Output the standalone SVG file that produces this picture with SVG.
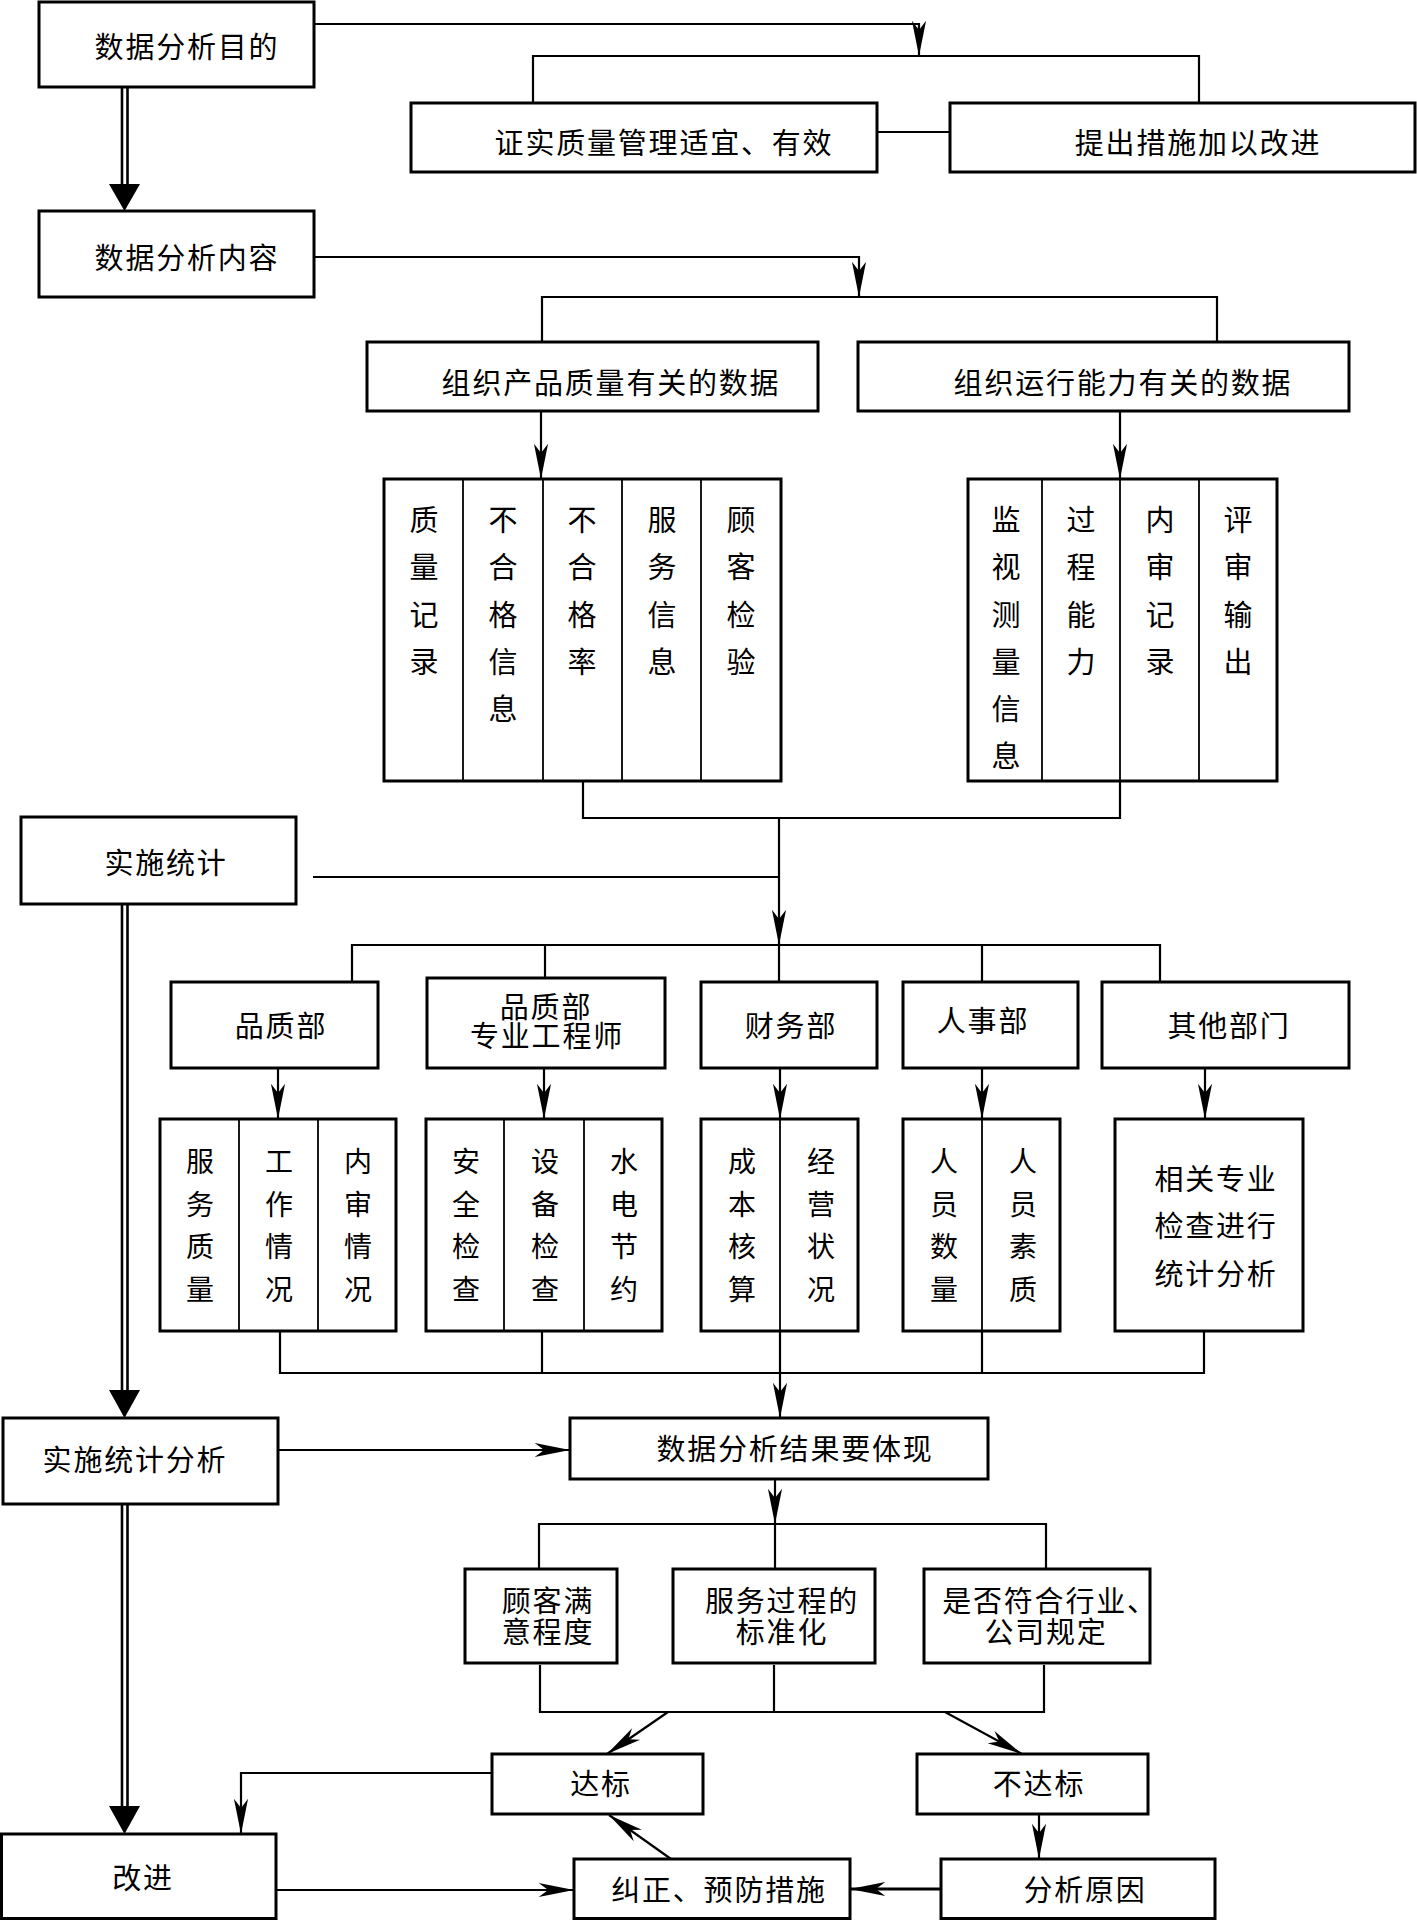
<svg xmlns="http://www.w3.org/2000/svg" width="1417" height="1920" viewBox="0 0 1417 1920">
<style>
.b{fill:#fff;stroke:#000;stroke-width:3}
.d{fill:none;stroke:#000;stroke-width:1.8}
.c{fill:none;stroke:#000;stroke-width:2.2}
.ca{fill:none;stroke:#000;stroke-width:2.2;marker-end:url(#ah)}
.dbl{fill:none;stroke:#000;stroke-width:2.6}
.t{font-family:"Noto Sans CJK SC","Noto Sans",sans-serif;font-size:29px;letter-spacing:1.8px;fill:#000;text-anchor:middle}
.k{font-family:"Noto Sans CJK SC","Noto Sans",sans-serif;font-size:29px;fill:#000;text-anchor:middle}
.v{font-family:"Noto Sans CJK SC","Noto Sans",sans-serif;font-size:28px;fill:#000;text-anchor:middle}
</style>
<defs>
<marker id="ah" markerUnits="userSpaceOnUse" markerWidth="40" markerHeight="20" viewBox="-32 -8 34 16" refX="0" refY="0" orient="auto">
<path d="M0,0 L-30,-6 L-22,0 L-30,6 Z" fill="#000"/>
</marker>
</defs>
<rect width="1417" height="1920" fill="#fff"/>

<g id="connectors">
<polyline class="ca" points="314,24 919,24 919,56"/>
<polyline class="c" points="533,103 533,56 1199,56 1199,103"/>
<line class="c" x1="877" y1="132" x2="950" y2="132"/>
<line class="dbl" x1="122" y1="87" x2="122" y2="186"/>
<line class="dbl" x1="127.5" y1="87" x2="127.5" y2="186"/>
<polygon points="109,184 140,184 124.5,211" fill="#000"/>
<polyline class="ca" points="314,257 859,257 859,297"/>
<polyline class="c" points="542,342 542,297 1217,297 1217,342"/>
<line class="ca" x1="541" y1="411" x2="541" y2="479"/>
<line class="ca" x1="1120" y1="411" x2="1120" y2="479"/>
<polyline class="c" points="583,781 583,818 1120,818 1120,781"/>
<line class="ca" x1="779" y1="818" x2="779" y2="945"/>
<line class="c" x1="313" y1="877" x2="779" y2="877"/>
<line class="dbl" x1="122" y1="904" x2="122" y2="1392"/>
<line class="dbl" x1="127.5" y1="904" x2="127.5" y2="1392"/>
<polygon points="109,1390 140,1390 124.5,1418" fill="#000"/>
<polyline class="c" points="352,982 352,945 1160,945 1160,982"/>
<line class="c" x1="545" y1="945" x2="545" y2="978"/>
<line class="c" x1="779" y1="945" x2="779" y2="982"/>
<line class="c" x1="982" y1="945" x2="982" y2="982"/>
<line class="ca" x1="278" y1="1068" x2="278" y2="1119"/>
<line class="ca" x1="544" y1="1068" x2="544" y2="1119"/>
<line class="ca" x1="780" y1="1068" x2="780" y2="1119"/>
<line class="ca" x1="982" y1="1068" x2="982" y2="1119"/>
<line class="ca" x1="1205" y1="1068" x2="1205" y2="1119"/>
<polyline class="c" points="280,1331 280,1373 1204,1373 1204,1331"/>
<line class="c" x1="542" y1="1331" x2="542" y2="1373"/>
<line class="c" x1="780" y1="1331" x2="780" y2="1373"/>
<line class="c" x1="982" y1="1331" x2="982" y2="1373"/>
<line class="ca" x1="780" y1="1373" x2="780" y2="1418"/>
<line class="ca" x1="278" y1="1450" x2="570" y2="1450"/>
<line class="dbl" x1="122" y1="1504" x2="122" y2="1808"/>
<line class="dbl" x1="127.5" y1="1504" x2="127.5" y2="1808"/>
<polygon points="109,1806 140,1806 124.5,1834" fill="#000"/>
<line class="ca" x1="775" y1="1479" x2="775" y2="1524"/>
<polyline class="c" points="539,1569 539,1524 1046,1524 1046,1569"/>
<line class="c" x1="775" y1="1524" x2="775" y2="1569"/>
<polyline class="c" points="540,1665 540,1712 1044,1712 1044,1665"/>
<line class="c" x1="774" y1="1665" x2="774" y2="1712"/>
<line class="ca" x1="668" y1="1712" x2="607" y2="1754"/>
<line class="ca" x1="945" y1="1712" x2="1022" y2="1754"/>
<polyline class="ca" points="492,1773 241,1773 241,1834"/>
<line class="ca" x1="1039" y1="1814" x2="1039" y2="1859"/>
<line class="ca" x1="941" y1="1889" x2="850" y2="1889" style="stroke-width:3"/>
<line class="ca" x1="671" y1="1859" x2="609" y2="1815"/>
<line class="ca" x1="276" y1="1890" x2="574" y2="1890"/>
</g>

<g id="n-purpose"><rect class="b" x="39" y="2" width="275" height="85"/><text class="t" x="187" y="58">数据分析目的</text></g>
<g id="n-confirm"><rect class="b" x="411" y="103" width="466" height="69"/><text class="t" x="664" y="154">证实质量管理适宜、有效</text></g>
<g id="n-improve-measure"><rect class="b" x="950" y="103" width="465" height="69"/><text class="t" x="1198" y="154">提出措施加以改进</text></g>
<g id="n-content"><rect class="b" x="39" y="211" width="275" height="86"/><text class="t" x="187" y="269">数据分析内容</text></g>
<g id="n-product"><rect class="b" x="367" y="342" width="451" height="69"/><text class="t" x="611" y="394">组织产品质量有关的数据</text></g>
<g id="n-operation"><rect class="b" x="858" y="342" width="491" height="69"/><text class="t" x="1123" y="394">组织运行能力有关的数据</text></g>

<g id="n-product-items">
<rect class="b" x="384" y="479" width="397" height="302"/>
<line class="d" x1="463" y1="479" x2="463" y2="781"/>
<line class="d" x1="543" y1="479" x2="543" y2="781"/>
<line class="d" x1="622" y1="479" x2="622" y2="781"/>
<line class="d" x1="701" y1="479" x2="701" y2="781"/>
<text class="k"><tspan x="424" y="531">质</tspan><tspan x="424" y="578">量</tspan><tspan x="424" y="626">记</tspan><tspan x="424" y="673">录</tspan></text>
<text class="k"><tspan x="503" y="531">不</tspan><tspan x="503" y="578">合</tspan><tspan x="503" y="626">格</tspan><tspan x="503" y="673">信</tspan><tspan x="503" y="720">息</tspan></text>
<text class="k"><tspan x="582" y="531">不</tspan><tspan x="582" y="578">合</tspan><tspan x="582" y="626">格</tspan><tspan x="582" y="673">率</tspan></text>
<text class="k"><tspan x="662" y="531">服</tspan><tspan x="662" y="578">务</tspan><tspan x="662" y="626">信</tspan><tspan x="662" y="673">息</tspan></text>
<text class="k"><tspan x="741" y="531">顾</tspan><tspan x="741" y="578">客</tspan><tspan x="741" y="626">检</tspan><tspan x="741" y="673">验</tspan></text>
</g>

<g id="n-operation-items">
<rect class="b" x="968" y="479" width="309" height="302"/>
<line class="d" x1="1042" y1="479" x2="1042" y2="781"/>
<line class="d" x1="1120" y1="479" x2="1120" y2="781"/>
<line class="d" x1="1199" y1="479" x2="1199" y2="781"/>
<text class="k"><tspan x="1006" y="531">监</tspan><tspan x="1006" y="578">视</tspan><tspan x="1006" y="626">测</tspan><tspan x="1006" y="673">量</tspan><tspan x="1006" y="720">信</tspan><tspan x="1006" y="767">息</tspan></text>
<text class="k"><tspan x="1081" y="531">过</tspan><tspan x="1081" y="578">程</tspan><tspan x="1081" y="626">能</tspan><tspan x="1081" y="673">力</tspan></text>
<text class="k"><tspan x="1160" y="531">内</tspan><tspan x="1160" y="578">审</tspan><tspan x="1160" y="626">记</tspan><tspan x="1160" y="673">录</tspan></text>
<text class="k"><tspan x="1238" y="531">评</tspan><tspan x="1238" y="578">审</tspan><tspan x="1238" y="626">输</tspan><tspan x="1238" y="673">出</tspan></text>
</g>

<g id="n-stat"><rect class="b" x="21" y="817" width="275" height="87"/><text class="t" x="166" y="874">实施统计</text></g>

<g id="n-qd"><rect class="b" x="171" y="982" width="207" height="86"/><text class="t" x="281" y="1037">品质部</text></g>
<g id="n-qe"><rect class="b" x="427" y="978" width="238" height="90"/><text class="t"><tspan x="546" y="1018">品质部</tspan><tspan x="547" y="1047">专业工程师</tspan></text></g>
<g id="n-fin"><rect class="b" x="701" y="982" width="176" height="86"/><text class="t" x="791" y="1037">财务部</text></g>
<g id="n-hr"><rect class="b" x="903" y="982" width="175" height="86"/><text class="t" x="983" y="1032">人事部</text></g>
<g id="n-other"><rect class="b" x="1102" y="982" width="247" height="86"/><text class="t" x="1229" y="1037">其他部门</text></g>

<g id="n-qd-items">
<rect class="b" x="160" y="1119" width="236" height="212"/>
<line class="d" x1="239" y1="1119" x2="239" y2="1331"/>
<line class="d" x1="318" y1="1119" x2="318" y2="1331"/>
<text class="v"><tspan x="200" y="1172">服</tspan><tspan x="200" y="1215">务</tspan><tspan x="200" y="1257">质</tspan><tspan x="200" y="1300">量</tspan></text>
<text class="v"><tspan x="279" y="1172">工</tspan><tspan x="279" y="1215">作</tspan><tspan x="279" y="1257">情</tspan><tspan x="279" y="1300">况</tspan></text>
<text class="v"><tspan x="358" y="1172">内</tspan><tspan x="358" y="1215">审</tspan><tspan x="358" y="1257">情</tspan><tspan x="358" y="1300">况</tspan></text>
</g>
<g id="n-qe-items">
<rect class="b" x="426" y="1119" width="236" height="212"/>
<line class="d" x1="504" y1="1119" x2="504" y2="1331"/>
<line class="d" x1="584" y1="1119" x2="584" y2="1331"/>
<text class="v"><tspan x="466" y="1172">安</tspan><tspan x="466" y="1215">全</tspan><tspan x="466" y="1257">检</tspan><tspan x="466" y="1300">查</tspan></text>
<text class="v"><tspan x="545" y="1172">设</tspan><tspan x="545" y="1215">备</tspan><tspan x="545" y="1257">检</tspan><tspan x="545" y="1300">查</tspan></text>
<text class="v"><tspan x="624" y="1172">水</tspan><tspan x="624" y="1215">电</tspan><tspan x="624" y="1257">节</tspan><tspan x="624" y="1300">约</tspan></text>
</g>
<g id="n-fin-items">
<rect class="b" x="701" y="1119" width="157" height="212"/>
<line class="d" x1="780" y1="1119" x2="780" y2="1331"/>
<text class="v"><tspan x="742" y="1172">成</tspan><tspan x="742" y="1215">本</tspan><tspan x="742" y="1257">核</tspan><tspan x="742" y="1300">算</tspan></text>
<text class="v"><tspan x="821" y="1172">经</tspan><tspan x="821" y="1215">营</tspan><tspan x="821" y="1257">状</tspan><tspan x="821" y="1300">况</tspan></text>
</g>
<g id="n-hr-items">
<rect class="b" x="903" y="1119" width="157" height="212"/>
<line class="d" x1="982" y1="1119" x2="982" y2="1331"/>
<text class="v"><tspan x="944" y="1172">人</tspan><tspan x="944" y="1215">员</tspan><tspan x="944" y="1257">数</tspan><tspan x="944" y="1300">量</tspan></text>
<text class="v"><tspan x="1023" y="1172">人</tspan><tspan x="1023" y="1215">员</tspan><tspan x="1023" y="1257">素</tspan><tspan x="1023" y="1300">质</tspan></text>
</g>
<g id="n-other-items">
<rect class="b" x="1115" y="1119" width="188" height="212"/>
<text class="t"><tspan x="1216" y="1190">相关专业</tspan><tspan x="1216" y="1237">检查进行</tspan><tspan x="1216" y="1285">统计分析</tspan></text>
</g>

<g id="n-analysis"><rect class="b" x="3" y="1418" width="275" height="86"/><text class="t" x="135" y="1471">实施统计分析</text></g>
<g id="n-result"><rect class="b" x="570" y="1418" width="418" height="61"/><text class="t" x="795" y="1460">数据分析结果要体现</text></g>

<g id="n-satisfaction"><rect class="b" x="465" y="1569" width="152" height="94"/><text class="t"><tspan x="548" y="1612">顾客满</tspan><tspan x="548" y="1643">意程度</tspan></text></g>
<g id="n-standard"><rect class="b" x="673" y="1569" width="202" height="94"/><text class="t"><tspan x="782" y="1612">服务过程的</tspan><tspan x="782" y="1643">标准化</tspan></text></g>
<g id="n-comply"><rect class="b" x="924" y="1569" width="226" height="94"/><text class="t"><tspan x="1050" y="1612">是否符合行业、</tspan><tspan x="1046" y="1643">公司规定</tspan></text></g>

<g id="n-pass"><rect class="b" x="492" y="1754" width="211" height="60"/><text class="t" x="601" y="1795">达标</text></g>
<g id="n-fail"><rect class="b" x="917" y="1754" width="231" height="60"/><text class="t" x="1039" y="1795">不达标</text></g>

<g id="n-improve"><rect class="b" x="1.5" y="1834" width="274.5" height="84.5"/><text class="t" x="143" y="1889">改进</text></g>
<g id="n-corrective"><rect class="b" x="574" y="1859" width="276" height="59.5"/><text class="t" x="719" y="1901">纠正、预防措施</text></g>
<g id="n-cause"><rect class="b" x="941" y="1859" width="274" height="59.5"/><text class="t" x="1085" y="1901">分析原因</text></g>
</svg>
